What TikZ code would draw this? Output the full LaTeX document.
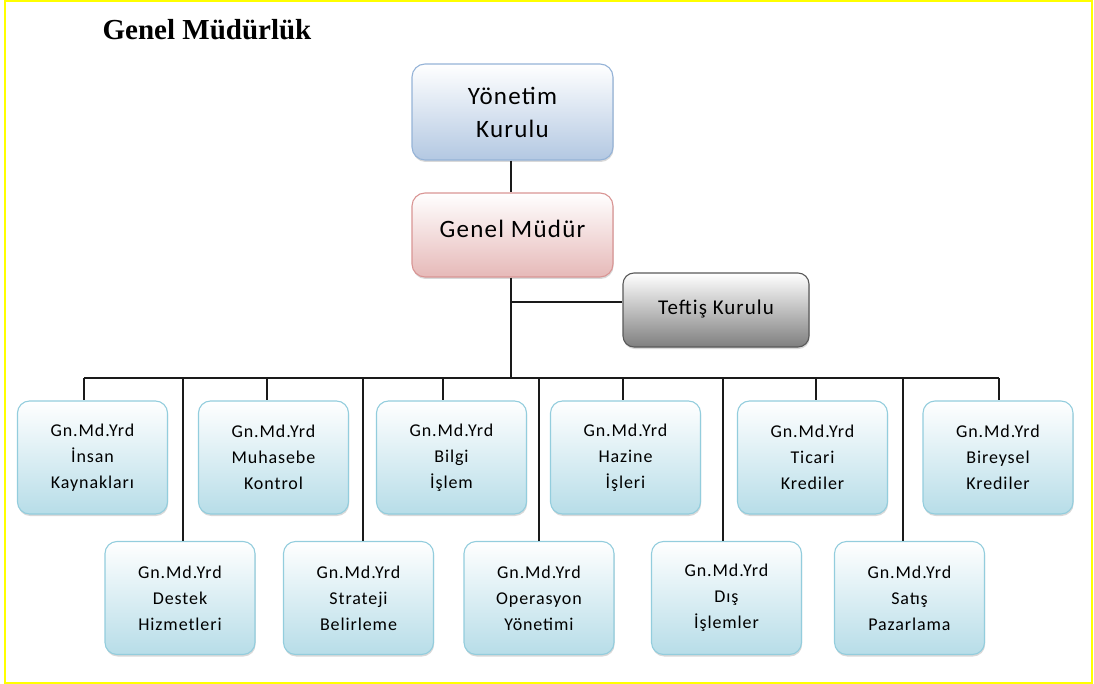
\documentclass[tikz,border=0pt]{standalone}
\usepackage{fontspec}
\usetikzlibrary{shadows}
\newfontfamily\boxfont[LetterSpace=5]{Carlito}
\newfontfamily\headfont{Liberation Serif}

\definecolor{frameyellow}{HTML}{FFFF00}
\definecolor{boardfill}{HTML}{B3C8E2}
\definecolor{boardline}{HTML}{95B3D7}
\definecolor{gmfill}{HTML}{E6B9B8}
\definecolor{gmline}{HTML}{D99594}
\definecolor{audfill}{HTML}{7F7F7F}
\definecolor{audline}{HTML}{595959}
\definecolor{unitfill}{HTML}{B7DDE8}
\definecolor{unitline}{HTML}{93CDDD}
\definecolor{wire}{HTML}{1A1A1A}

\tikzset{
  orgbox/.style={rounded corners=13pt, inner sep=0pt, align=center,
    line width=1.1pt, text=black,
    drop shadow={shadow xshift=0.6pt, shadow yshift=-2pt, opacity=0.3}},
  boardbox/.style={orgbox, draw=boardline, top color=white, bottom color=boardfill,
    minimum width=201pt, minimum height=96pt,
    font=\boxfont\fontsize{25}{33}\selectfont},
  gmbox/.style={orgbox, draw=gmline, top color=white, bottom color=gmfill,
    minimum width=201pt, minimum height=84pt,
    font=\boxfont\fontsize{25}{33}\selectfont},
  audbox/.style={orgbox, rounded corners=11pt, draw=audline, top color=white, bottom color=audfill,
    minimum width=186pt, minimum height=74pt,
    font=\boxfont\fontsize{21}{26}\selectfont},
  unitbox/.style={orgbox, rounded corners=12pt, draw=unitline, top color=white, bottom color=unitfill,
    minimum width=150pt, minimum height=113pt,
    font=\boxfont\fontsize{18}{26}\selectfont},
  wireline/.style={draw=wire, line width=1.8pt}
}

\begin{document}
\begin{tikzpicture}[x=1pt, y=-1pt]
  \useasboundingbox (0,0) rectangle (1094,684);
  \draw[frameyellow, line width=2pt] (5,1.5) rectangle (1091.5,683);

  \node[font=\headfont\bfseries\fontsize{29}{32}\selectfont] (title) at (207,30) {Genel Müdürlük};

  % top of the hierarchy
  \node[boardbox] (board) at (512.5,112) {Yönetim\\Kurulu};
  \node[gmbox] (gm) at (512.5,235) {\raisebox{12pt}{Genel Müdür}};
  \node[audbox] (aud) at (716,310) {\raisebox{6pt}{Teftiş Kurulu}};

  % first row of deputy general managers
  \node[unitbox] (u1) at (92.5,457.5)  {Gn.Md.Yrd\\İnsan\\Kaynakları};
  \node[unitbox] (u2) at (273.5,457.5) {Gn.Md.Yrd\\Muhasebe\\Kontrol};
  \node[unitbox] (u3) at (451.5,457.5) {Gn.Md.Yrd\\Bilgi\\İşlem};
  \node[unitbox] (u4) at (625.5,457.5) {Gn.Md.Yrd\\Hazine\\İşleri};
  \node[unitbox] (u5) at (812.5,457.5) {Gn.Md.Yrd\\Ticari\\Krediler};
  \node[unitbox] (u6) at (998,457.5)   {Gn.Md.Yrd\\Bireysel\\Krediler};

  % second row of deputy general managers
  \node[unitbox] (v1) at (180,598)   {Gn.Md.Yrd\\Destek\\Hizmetleri};
  \node[unitbox] (v2) at (358.5,598) {Gn.Md.Yrd\\Strateji\\Belirleme};
  \node[unitbox] (v3) at (539,598)   {Gn.Md.Yrd\\Operasyon\\Yönetimi};
  \node[unitbox] (v4) at (726.5,598) {Gn.Md.Yrd\\Dış\\İşlemler};
  \node[unitbox] (v5) at (909.5,598) {Gn.Md.Yrd\\Satış\\Pazarlama};

  % connector points
  \coordinate (tap) at (511,302);
  \coordinate (bus) at (511,378);
  \coordinate (b1) at (84,378);
  \coordinate (b2) at (183,378);
  \coordinate (b3) at (267,378);
  \coordinate (b4) at (363,378);
  \coordinate (b5) at (443,378);
  \coordinate (b6) at (539,378);
  \coordinate (b7) at (623,378);
  \coordinate (b8) at (723,378);
  \coordinate (b9) at (816,378);
  \coordinate (b10) at (903,378);
  \coordinate (b11) at (999,378);

  \begin{scope}[wireline]
    \draw (board.south -| tap) -- (gm.north -| tap);
    \draw (gm.south -| tap) -- (bus);
    \draw (tap) -- (tap -| aud.west);
    \draw (b1) -- (b11);
    \draw (b1) -- (b1 |- u1.north);
    \draw (b3) -- (b3 |- u2.north);
    \draw (b5) -- (b5 |- u3.north);
    \draw (b7) -- (b7 |- u4.north);
    \draw (b9) -- (b9 |- u5.north);
    \draw (b11) -- (b11 |- u6.north);
    \draw (b2) -- (b2 |- v1.north);
    \draw (b4) -- (b4 |- v2.north);
    \draw (b6) -- (b6 |- v3.north);
    \draw (b8) -- (b8 |- v4.north);
    \draw (b10) -- (b10 |- v5.north);
  \end{scope}
\end{tikzpicture}
\end{document}
